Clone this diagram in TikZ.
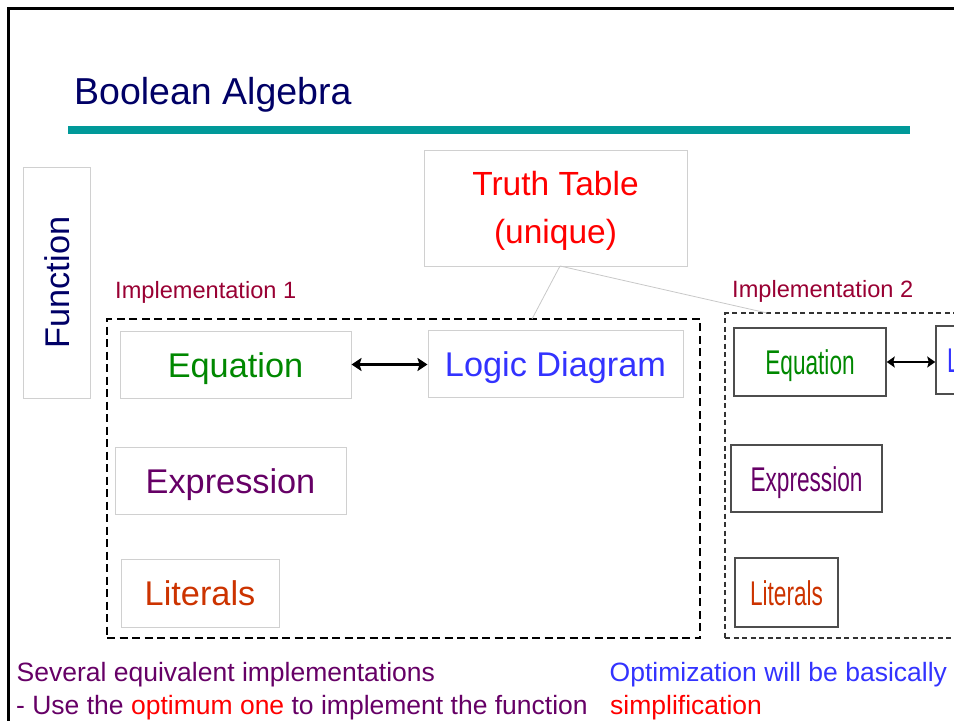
\documentclass[tikz,border=0pt]{standalone}
\usepackage{fontspec}
\setmainfont{Liberation Sans}
\usepackage{graphicx}
\usetikzlibrary{arrows.meta}

\definecolor{slidenavy}{HTML}{000066}
\definecolor{slideteal}{HTML}{009999}
\definecolor{implred}{HTML}{990033}
\definecolor{eqgreen}{HTML}{008800}
\definecolor{logicblue}{HTML}{3333FF}
\definecolor{exprpurple}{HTML}{660066}
\definecolor{litorange}{HTML}{CC3300}
\definecolor{boxgray}{HTML}{D0D0D0}
\definecolor{boxdark}{HTML}{4D4D4D}
\definecolor{tiegray}{HTML}{C8C8C8}

\newcommand\titlefont{\fontsize{37.5}{45}\selectfont}
\newcommand\boxfont{\fontsize{34.3}{48}\selectfont}
\newcommand\implfont{\fontsize{23.6}{28}\selectfont}
\newcommand\notefont{\fontsize{26.5}{33}\selectfont}
\newcommand\narrow[1]{\scalebox{0.66}[1]{#1}}

\begin{document}
\begin{tikzpicture}[x=1pt,y=-1pt,every node/.style={anchor=center},
    lbox/.style={draw=boxgray,line width=1pt,inner sep=0pt,font=\boxfont,text height=25pt,text depth=0pt},
    dbox/.style={draw=boxdark,line width=1.5pt,inner sep=0pt,font=\boxfont,text height=25pt,text depth=0pt},
    implbox/.style={draw=black,line width=2pt,dash pattern=on 8pt off 4.5pt},
    implbox2/.style={draw=black!80,line width=1.5pt,dash pattern=on 5pt off 3.5pt},
    txt/.style={inner sep=0pt,anchor=base west},
    tie/.style={draw=tiegray,line width=0.8pt},
    dbl/.style={{Stealth[length=10pt,width=13pt,inset=2pt]}-{Stealth[length=10pt,width=13pt,inset=2pt]},line width=3pt},
    dbl2/.style={{Stealth[length=8pt,width=11pt,inset=1.5pt]}-{Stealth[length=8pt,width=11pt,inset=1.5pt]},line width=2.5pt}]
    \useasboundingbox (0,0) rectangle (954,721);
    \clip (0,0) rectangle (954,721);
    % slide frame and title
    \draw[line width=3pt] (954,8) -- (8,8) -- (8,721);
    \node[txt,font=\titlefont,text=slidenavy] (title) at (74,104) {Boolean Algebra};
    \fill[slideteal] (68,126) rectangle (910,134);
    % truth table and function
    \node[draw=boxgray,line width=1pt,inner sep=0pt,minimum width=263,minimum height=116] (tt) at (555.5,208) {};
    \node[align=center,text=red,font=\fontsize{33.5}{48}\selectfont] (ttlabel) at (555.5,211) {Truth Table\\(unique)};
    \node[lbox,rotate=90,minimum width=231,minimum height=67,text=slidenavy] (fn) at (56.5,282.5) {Function};
    % implementation 1
    \node[txt,font=\implfont,text=implred] (implA) at (115,298) {Implementation 1};
    \node[implbox,minimum width=593,minimum height=319] (impA) at (403.5,478.5) {};
    \node[lbox,minimum width=231,minimum height=67,text=eqgreen] (eq1) at (235.5,364.5) {Equation};
    \node[lbox,minimum width=255,minimum height=67,text=logicblue] (logic1) at (555.5,363.5) {Logic Diagram};
    \node[lbox,minimum width=231,minimum height=67,text=exprpurple] (expr1) at (230.5,480.5) {Expression};
    \node[lbox,minimum width=158,minimum height=68,text=litorange] (lit1) at (200,593) {Literals};
    \draw[dbl] (eq1.east) -- (eq1.east -| logic1.west);
    % implementation 2
    \node[txt,font=\implfont,text=implred] (implB) at (732,297.5) {Implementation 2};
    \node[implbox2,minimum width=600,minimum height=325] (impB) at (1025,475.5) {};
    \node[dbox,minimum width=152,minimum height=68,text=eqgreen] (eq2) at (810,362) {\narrow{Equation}};
    \node[dbox,minimum width=168,minimum height=68,text=logicblue] (logic2) at (1020,360) {\narrow{Logic Diagram}};
    \node[dbox,minimum width=151,minimum height=67,text=exprpurple] (expr2) at (806.5,478.5) {\narrow{Expression}};
    \node[dbox,minimum width=103,minimum height=69,text=litorange] (lit2) at (786.5,592.5) {\narrow{Literals}};
    \draw[dbl2] (eq2.east) -- (eq2.east -| logic2.west);
    % links from the truth table
    \coordinate (ttfoot) at (560,266);
    \coordinate (footA) at (532,319);
    \coordinate (footB) at (767,313);
    \draw[tie] (ttfoot) -- (footA);
    \draw[tie] (ttfoot) -- (footB);
    % notes
    \node[txt,font=\notefont,text=exprpurple] (noteA1) at (16.5,681) {Several equivalent implementations};
    \node[txt,font=\notefont,text=exprpurple] (noteA2) at (16,714) {- Use the \textcolor{red}{optimum one} to implement the function};
    \node[txt,font=\notefont,text=logicblue] (noteB1) at (609.5,681) {Optimization will be basically};
    \node[txt,font=\notefont,text=red] (noteB2) at (610,714) {simplification};
\end{tikzpicture}
\end{document}
